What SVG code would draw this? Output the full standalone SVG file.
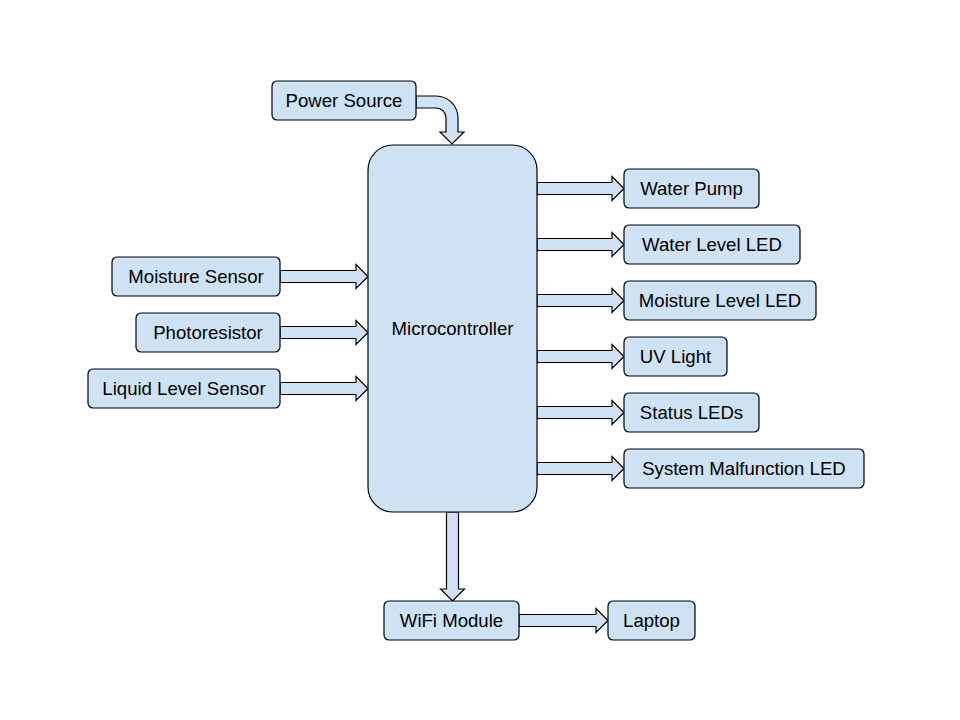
<svg xmlns="http://www.w3.org/2000/svg" width="960" height="720" viewBox="0 0 960 720">
<style>
.box{fill:#cfe2f3;stroke:#000;stroke-width:1.2}
.arr{fill:#cfe2f3;stroke:#000;stroke-width:1.2;stroke-linejoin:miter}
text{font-family:"Liberation Sans",Arial,sans-serif;font-size:18.6px;fill:#000;text-anchor:middle}
</style>
<rect width="960" height="720" fill="#fff"/>
<g id="connectors">
<path class="arr" d="M416,96 H436 A22,22 0 0 1 458,118 V132 H464 L452,144 L440,132 H446 V118 A10,10 0 0 0 436,108 H416 Z"/>
<path class="arr" d="M280,270.5 H356 V264.5 L368,276.5 L356,288.5 V282.5 H280 Z"/>
<path class="arr" d="M280,326.5 H356 V320.5 L368,332.5 L356,344.5 V338.5 H280 Z"/>
<path class="arr" d="M280,382.5 H356 V376.5 L368,388.5 L356,400.5 V394.5 H280 Z"/>
<path class="arr" d="M537,182.5 H612 V176.5 L624,188.5 L612,200.5 V194.5 H537 Z"/>
<path class="arr" d="M537,238.5 H612 V232.5 L624,244.5 L612,256.5 V250.5 H537 Z"/>
<path class="arr" d="M537,294.5 H612 V288.5 L624,300.5 L612,312.5 V306.5 H537 Z"/>
<path class="arr" d="M537,350.5 H612 V344.5 L624,356.5 L612,368.5 V362.5 H537 Z"/>
<path class="arr" d="M537,406.5 H612 V400.5 L624,412.5 L612,424.5 V418.5 H537 Z"/>
<path class="arr" d="M537,462.5 H612 V456.5 L624,468.5 L612,480.5 V474.5 H537 Z"/>
<path class="arr" d="M446.5,512 V589 H440.5 L452.5,601 L464.5,589 H458.5 V512 Z"/>
<path class="arr" d="M519,614.5 H596 V608.5 L608,620.5 L596,632.5 V626.5 H519 Z"/>
</g>
<g id="power-source"><rect class="box" x="272" y="81" width="144" height="39" rx="5"/><text x="344" y="107">Power Source</text></g>
<g id="microcontroller"><rect class="box" x="368" y="145" width="169" height="367" rx="25"/><text x="452.5" y="335">Microcontroller</text></g>
<g id="moisture-sensor"><rect class="box" x="112" y="257" width="168" height="39" rx="5"/><text x="196" y="283">Moisture Sensor</text></g>
<g id="photoresistor"><rect class="box" x="136" y="313" width="144" height="39" rx="5"/><text x="208" y="339">Photoresistor</text></g>
<g id="liquid-level-sensor"><rect class="box" x="88" y="369" width="192" height="39" rx="5"/><text x="184" y="395">Liquid Level Sensor</text></g>
<g id="water-pump"><rect class="box" x="624" y="169" width="135" height="39" rx="5"/><text x="691.5" y="195">Water Pump</text></g>
<g id="water-level-led"><rect class="box" x="624" y="225" width="176" height="39" rx="5"/><text x="712" y="251">Water Level LED</text></g>
<g id="moisture-level-led"><rect class="box" x="624" y="281" width="192" height="39" rx="5"/><text x="720" y="307">Moisture Level LED</text></g>
<g id="uv-light"><rect class="box" x="624" y="337" width="103" height="39" rx="5"/><text x="675.5" y="363">UV Light</text></g>
<g id="status-leds"><rect class="box" x="624" y="393" width="135" height="39" rx="5"/><text x="691.5" y="419">Status LEDs</text></g>
<g id="system-malfunction-led"><rect class="box" x="624" y="449" width="240" height="39" rx="5"/><text x="744" y="475">System Malfunction LED</text></g>
<g id="wifi-module"><rect class="box" x="384" y="601" width="135" height="39" rx="5"/><text x="451.5" y="627">WiFi Module</text></g>
<g id="laptop"><rect class="box" x="608" y="601" width="87" height="39" rx="5"/><text x="651.5" y="627">Laptop</text></g>
</svg>
